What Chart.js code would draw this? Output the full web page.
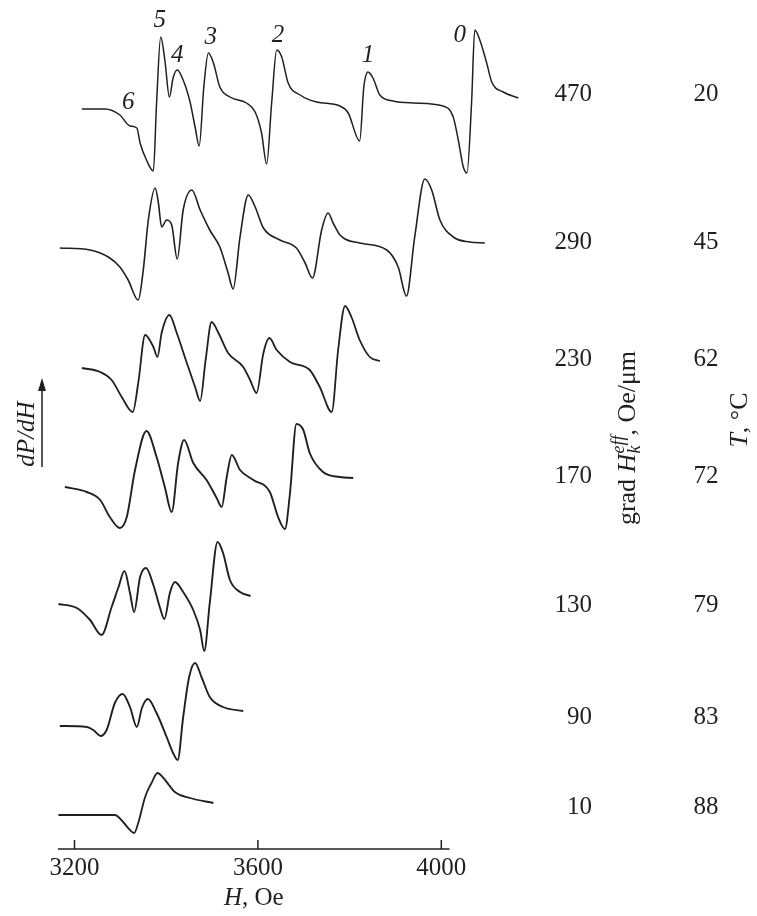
<!DOCTYPE html>
<html>
<head>
<meta charset="utf-8">
<script src="https://cdn.jsdelivr.net/npm/chart.js@4.4.0/dist/chart.umd.min.js"></script>
<style>
  html, body { margin: 0; padding: 0; background: #fff; }
</style>
</head>
<body>
<canvas id="epr-spectra" width="757" height="916"></canvas>
<script>
// field values (Oe) and dP/dH readings for each gradient, top to bottom
const h470 = [3216, 3266, 3299, 3321, 3336, 3343, 3357, 3372, 3379, 3388, 3397, 3407, 3415, 3424, 3437, 3452, 3463, 3472, 3482, 3492, 3503, 3517, 3539, 3575, 3594, 3608, 3619, 3630, 3641, 3652, 3666, 3692, 3728, 3779, 3797, 3822, 3831, 3840, 3851, 3866, 3895, 3939, 4004, 4026, 4037, 4048, 4056, 4066, 4073, 4084, 4099, 4110, 4135, 4168];
const s470 = [-15, -15, -21, -32, -34, -49, -66, -77, -9, 57, 34, -3, 16, 24, 14, -8, -33, -52, 7, 41, 31, 7, -3, -9, -18, -39, -70, -9, 44, 37, 11, -1, -8, -12, -19, -47, 7, 22, 16, -1, -7, -9, -12, -23, -46, -73, -79, -9, 64, 54, 31, 12, 2, -4];

const h290 = [3168, 3234, 3277, 3299, 3317, 3339, 3350, 3361, 3376, 3383, 3390, 3401, 3412, 3424, 3437, 3456, 3474, 3495, 3517, 3535, 3546, 3561, 3579, 3594, 3612, 3648, 3684, 3703, 3719, 3739, 3753, 3764, 3779, 3822, 3881, 3906, 3924, 3942, 3964, 3979, 3997, 4026, 4062, 4095];
const s290 = [-6, -8, -16, -25, -38, -58, -28, 22, 54, 39, 15, 22, 17, -17, 32, 52, 32, 12, -5, -31, -47, 5, 47, 35, 14, 2, -6, -21, -36, 12, 29, 19, 7, -1, -8, -25, -54, 5, 63, 52, 22, 5, 0, -1];

const h230 = [3216, 3256, 3281, 3303, 3327, 3339, 3354, 3372, 3381, 3390, 3407, 3423, 3445, 3463, 3474, 3486, 3499, 3514, 3535, 3568, 3583, 3597, 3612, 3625, 3641, 3670, 3713, 3735, 3761, 3775, 3790, 3804, 3822, 3844, 3866];
const s230 = [-9, -13, -21, -38, -53, -24, 24, 12, 2, 26, 44, 26, -4, -28, -42, -1, 37, 26, 6, -8, -21, -34, 6, 21, 9, -3, -11, -28, -53, 9, 53, 42, 19, 2, -2];

const h170 = [3179, 3227, 3256, 3277, 3299, 3314, 3332, 3357, 3379, 3397, 3412, 3426, 3439, 3459, 3488, 3510, 3521, 3532, 3543, 3561, 3590, 3626, 3644, 3659, 3670, 3684, 3699, 3713, 3742, 3779, 3808];
const s170 = [-11, -16, -24, -41, -52, -41, 6, 45, 19, -11, -36, 13, 36, 13, -4, -22, -31, -1, 21, 6, -4, -16, -41, -53, -17, 52, 46, 23, 4, -1, -2];

const h130 = [3165, 3205, 3234, 3259, 3281, 3296, 3309, 3321, 3330, 3343, 3356, 3372, 3386, 3396, 3408, 3419, 3437, 3459, 3474, 3483, 3495, 3512, 3524, 3539, 3561, 3584];
const s130 = [1, -3, -15, -30, -2, 18, 34, 12, -7, 28, 37, 20, -2, -14, 12, 23, 13, -5, -25, -46, 2, 63, 52, 25, 13, 9];

const h90 = [3168, 3227, 3241, 3257, 3270, 3288, 3305, 3321, 3336, 3347, 3360, 3379, 3401, 3415, 3425, 3437, 3450, 3463, 3477, 3495, 3524, 3568];
const s90 = [-9, -10, -13, -19, -13, 14, 23, 10, -10, 9, 18, 4, -20, -36, -43, 0, 40, 54, 40, 20, 10, 6];

const h10 = [3165, 3288, 3306, 3321, 3330, 3339, 3354, 3368, 3381, 3394, 3419, 3452, 3503];
const s10 = [-8, -8, -15, -23, -26, -16, 10, 24, 34, 29, 15, 9, 4];

const gradLabels = ["470", "290", "230", "170", "130", "90", "10"];
const tempLabels = ["20", "45", "62", "72", "79", "83", "88"];
const offsets = [755, 607, 490, 373, 244, 132, 42];
const xTicks = [3200, 3600, 4000];
const axisStart = 3164;
const axisEnd = 4018;

// line numbers over the top spectrum
const peakNames = ["0", "1", "2", "3", "4", "5", "6"];
const peakH = [4040, 3840, 3644, 3497, 3424, 3386, 3317];
const peakS = [59, 39, 59, 57, 39, 74, -8];

const fields = [h470, h290, h230, h170, h130, h90, h10];
const signals = [s470, s290, s230, s170, s130, s90, s10];
const widths = [1.5, 1.6, 1.8, 1.9, 1.9, 1.9, 1.8];

const serif = "'Liberation Serif', 'Times New Roman', serif";
const ink = "#231f20";

function drawRich(ctx, parts, x, y) {
  let total = 0;
  parts.forEach((p) => {
    ctx.font = p.font;
    p.w = ctx.measureText(p.text).width;
    if (!p.noAdvance) total += p.w;
  });
  let cx = x - total / 2;
  ctx.textAlign = "left";
  parts.forEach((p) => {
    ctx.font = p.font;
    ctx.fillText(p.text, cx, y + (p.dy || 0));
    if (!p.noAdvance) cx += p.w;
  });
}

const decorations = {
  id: "decorations",
  afterDraw(chart) {
    const { ctx, chartArea } = chart;
    const x = chart.scales.x;
    const y = chart.scales.y;
    ctx.save();
    ctx.strokeStyle = ink;
    ctx.fillStyle = ink;

    // axis line and inward tick marks
    ctx.lineWidth = 1.5;
    ctx.beginPath();
    ctx.moveTo(x.getPixelForValue(axisStart), chartArea.bottom);
    ctx.lineTo(x.getPixelForValue(axisEnd), chartArea.bottom);
    ctx.stroke();
    xTicks.forEach((v) => {
      const px = x.getPixelForValue(v);
      ctx.beginPath();
      ctx.moveTo(px, chartArea.bottom);
      ctx.lineTo(px, chartArea.bottom - 9);
      ctx.stroke();
    });

    // H, Oe
    ctx.textBaseline = "alphabetic";
    drawRich(ctx, [
      { text: "H", font: "italic 25px " + serif },
      { text: ", Oe", font: "25px " + serif },
    ], (x.getPixelForValue(axisStart) + x.getPixelForValue(axisEnd)) / 2, 905);

    // dP/dH with arrow
    ctx.save();
    ctx.translate(27, 434);
    ctx.rotate(-Math.PI / 2);
    ctx.textBaseline = "middle";
    drawRich(ctx, [{ text: "dP/dH", font: "italic 25px " + serif }], 0, 0);
    ctx.restore();
    ctx.lineWidth = 1.5;
    ctx.beginPath();
    ctx.moveTo(42, 467);
    ctx.lineTo(42, 388);
    ctx.stroke();
    ctx.beginPath();
    ctx.moveTo(42, 378);
    ctx.lineTo(38, 391);
    ctx.lineTo(46, 391);
    ctx.closePath();
    ctx.fill();

    // right-hand columns
    ctx.textBaseline = "middle";
    ctx.font = "25px " + serif;
    gradLabels.forEach((t, i) => {
      const py = y.getPixelForValue(offsets[i]);
      ctx.textAlign = "right";
      ctx.fillText(t, 592, py);
      ctx.textAlign = "center";
      ctx.fillText(tempLabels[i], 706, py);
    });

    ctx.save();
    ctx.translate(628, 438);
    ctx.rotate(-Math.PI / 2);
    ctx.textBaseline = "middle";
    drawRich(ctx, [
      { text: "grad ", font: "26px " + serif },
      { text: "H", font: "italic 26px " + serif },
      { text: "k", font: "italic 18px " + serif, dy: 7, noAdvance: true },
      { text: "eff", font: "italic 18px " + serif, dy: -9 },
      { text: ", Oe/\u03bcm", font: "26px " + serif },
    ], 0, 0);
    ctx.restore();

    ctx.save();
    ctx.translate(740, 420);
    ctx.rotate(-Math.PI / 2);
    ctx.textBaseline = "middle";
    drawRich(ctx, [
      { text: "T", font: "italic 26px " + serif },
      { text: ", \u00b0C", font: "26px " + serif },
    ], 0, 0);
    ctx.restore();

    // peak numbers
    ctx.textBaseline = "middle";
    ctx.textAlign = "center";
    ctx.font = "italic 25px " + serif;
    peakNames.forEach((t, i) => {
      ctx.fillText(t, x.getPixelForValue(peakH[i]), y.getPixelForValue(offsets[0] + peakS[i]));
    });

    ctx.restore();
  },
};

const canvas = document.getElementById("epr-spectra");
const ctx = canvas.getContext("2d");

new Chart(ctx, {
  type: "line",
  data: {
    datasets: fields.map((hs, i) => ({
      data: hs.map((h, j) => ({ x: h, y: offsets[i] + signals[i][j] })),
      borderColor: ink,
      borderWidth: widths[i],
      pointRadius: 0,
      fill: false,
      cubicInterpolationMode: "monotone",
      clip: false,
    })),
  },
  options: {
    responsive: false,
    animation: false,
    devicePixelRatio: 1,
    layout: { padding: { left: 58, right: 224, top: 20, bottom: 0 } },
    plugins: { legend: { display: false }, tooltip: { enabled: false } },
    scales: {
      x: {
        type: "linear",
        position: "bottom",
        min: axisStart,
        max: 4200,
        afterBuildTicks: (scale) => {
          scale.ticks = xTicks.map((v) => ({ value: v }));
        },
        afterFit: (scale) => {
          scale.height = 67;
        },
        grid: { display: false, drawTicks: false },
        border: { display: false },
        ticks: {
          color: ink,
          padding: 4,
          maxRotation: 0,
          autoSkip: false,
          font: { family: serif, size: 25 },
          callback: (v) => String(v),
        },
      },
      y: { display: false, min: 0, max: 829 },
    },
  },
  plugins: [decorations],
});
</script>
</body>
</html>
